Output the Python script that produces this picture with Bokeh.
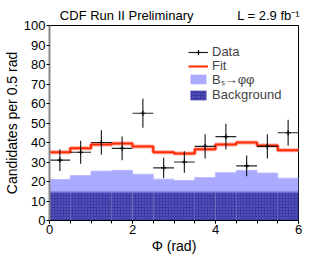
from bokeh.plotting import figure
from bokeh.models import Legend, LegendItem, FixedTicker, Range1d, LinearAxis
from bokeh.embed import file_html
from bokeh.resources import INLINE
import numpy as np

# ---- data ----
edges = [0, 0.5, 1.0, 1.5, 2.0, 2.5, 3.0, 3.5, 4.0, 4.5, 5.0, 5.5, 6.0]
centers = [0.25, 0.75, 1.25, 1.75, 2.25, 2.75, 3.25, 3.75, 4.25, 4.75, 5.25, 5.75]
data_vals = [31, 35, 40, 37, 55, 27, 30, 38, 43, 28, 38, 45]
data_err = [5.6, 5.9, 6.3, 6.1, 7.4, 5.2, 5.5, 6.2, 6.6, 5.3, 6.2, 6.7]
fit_vals = [35, 37, 39, 39.5, 38, 35, 34.3, 36.5, 39, 40, 38.5, 36]
background = [14.5, 14.5, 14.5, 14.5, 14.5, 14.5, 14.5, 14.5, 14.5, 14.5, 14.5, 14.5]
bs_signal = [6.5, 8.5, 10.8, 11.2, 9.2, 6.7, 6.0, 7.5, 10.0, 11.2, 9.8, 7.2]
y_ticks = [0, 10, 20, 30, 40, 50, 60, 70, 80, 90, 100]
x_ticks = [0, 2, 4, 6]
x_minor = [0, 0.5, 1.0, 1.5, 2.0, 2.5, 3.0, 3.5, 4.0, 4.5, 5.0, 5.5, 6.0]
header_texts = {1.86: "CDF Run II Preliminary", 5.28: "L = 2.9 fb⁻¹"}
legend_labels = ["Data", "Fit", "Bₛ→φφ", "Background"]

FONT = "Liberation Sans"

p = figure(width=332, height=256, output_backend="svg", toolbar_location=None,
           x_range=Range1d(0, 6), y_range=Range1d(0, 100),
           min_border_left=48, min_border_right=34, min_border_top=25, min_border_bottom=35)
p.grid.visible = False
p.outline_line_color = "black"
p.outline_line_width = 1
p.background_fill_color = "white"
p.border_fill_color = "white"

bkg_arr = np.array(background)
bs_top = bkg_arr + np.array(bs_signal)
e = np.array(edges)
bkg_step = np.append(bkg_arr, bkg_arr[-1])
bs_step = np.append(bs_top, bs_top[-1])
fit_step = np.append(np.array(fit_vals), fit_vals[-1])

r_bs = p.varea_step(x=e, y1=bkg_step, y2=bs_step, step_mode="after", fill_color="#aaaaff")
p.step(x=e, y=bs_step, mode="after", line_color="#b8b8ff", line_width=1)
r_bkg = p.quad(left=e[:-1], right=e[1:], bottom=0, top=bkg_arr, fill_color="#3c3ca8",
               line_color=None, hatch_pattern="dot", hatch_color="#6e6ec8",
               hatch_scale=3, hatch_weight=1)
p.step(x=e, y=bkg_step, mode="after", line_color="#6a6ad8", line_width=1.5)

p.step(x=e, y=fit_step, mode="after", line_color="#ffaaa0", line_width=4)
r_fit = p.step(x=e, y=fit_step, mode="after", line_color="#ff2a00", line_width=2)

dv = np.array(data_vals)
de = np.array(data_err)
c = np.array(centers)
r_v = p.segment(x0=c, x1=c, y0=dv - de, y1=dv + de, line_color="black", line_width=1.2, line_alpha=0.85)
r_h = p.segment(x0=c - 0.25, x1=c + 0.25, y0=dv, y1=dv, line_color="black", line_width=1.2, line_alpha=0.85)
r_pt = p.scatter(x=c, y=dv, marker="cross", size=5, line_color="black", line_width=1.2)

# axes
p.yaxis.ticker = FixedTicker(ticks=y_ticks)
p.xaxis.ticker = FixedTicker(ticks=x_ticks, minor_ticks=x_minor)
for ax in (p.xaxis, p.yaxis):
    ax.major_label_text_font = FONT
    ax.major_label_text_font_size = "13px"
    ax.major_label_text_color = "black"
    ax.axis_label_text_font = FONT
    ax.axis_label_text_font_style = "normal"
    ax.axis_label_text_font_size = "14px"
    ax.axis_label_text_color = "black"
    ax.major_tick_in = 0
    ax.major_tick_out = 3
    ax.major_tick_line_color = "black"
    ax.minor_tick_in = 0
    ax.minor_tick_out = 3
    ax.minor_tick_line_color = "black"
    ax.major_label_standoff = 1
    ax.axis_label_standoff = 1
p.yaxis.minor_tick_line_color = None
p.yaxis.axis_line_color = "#888888"
p.yaxis.axis_line_width = 2
p.xaxis.axis_line_color = "black"
p.yaxis.axis_label = "Candidates per 0.5 rad"
p.xaxis.axis_label = "Φ (rad)"

# header texts via an unmarked top axis
top = LinearAxis(ticker=FixedTicker(ticks=list(header_texts.keys())),
                 major_label_overrides=header_texts,
                 axis_line_color=None, major_tick_line_color=None, minor_tick_line_color=None,
                 major_tick_out=0, major_tick_in=0, major_label_standoff=3,
                 major_label_text_font=FONT, major_label_text_font_size="13px",
                 major_label_text_color="black")
p.add_layout(top, "above")

# one legend per row
legend_renderers = [[r_h, r_pt], [r_fit], [r_bs], [r_bkg]]
legend_rows_y = [161, 147, 132, 118]
for lab, rends, ly in zip(legend_labels, legend_renderers, legend_rows_y):
    lg = Legend(items=[LegendItem(label=lab, renderers=rends)],
                location=(139, ly), padding=0, margin=0, spacing=0,
                label_height=12, glyph_height=12, glyph_width=20, label_standoff=4,
                label_text_font=FONT, label_text_font_size="13px",
                background_fill_alpha=0, border_line_color=None)
    p.add_layout(lg)

open("out.html", "w").write(file_html(p, INLINE))
